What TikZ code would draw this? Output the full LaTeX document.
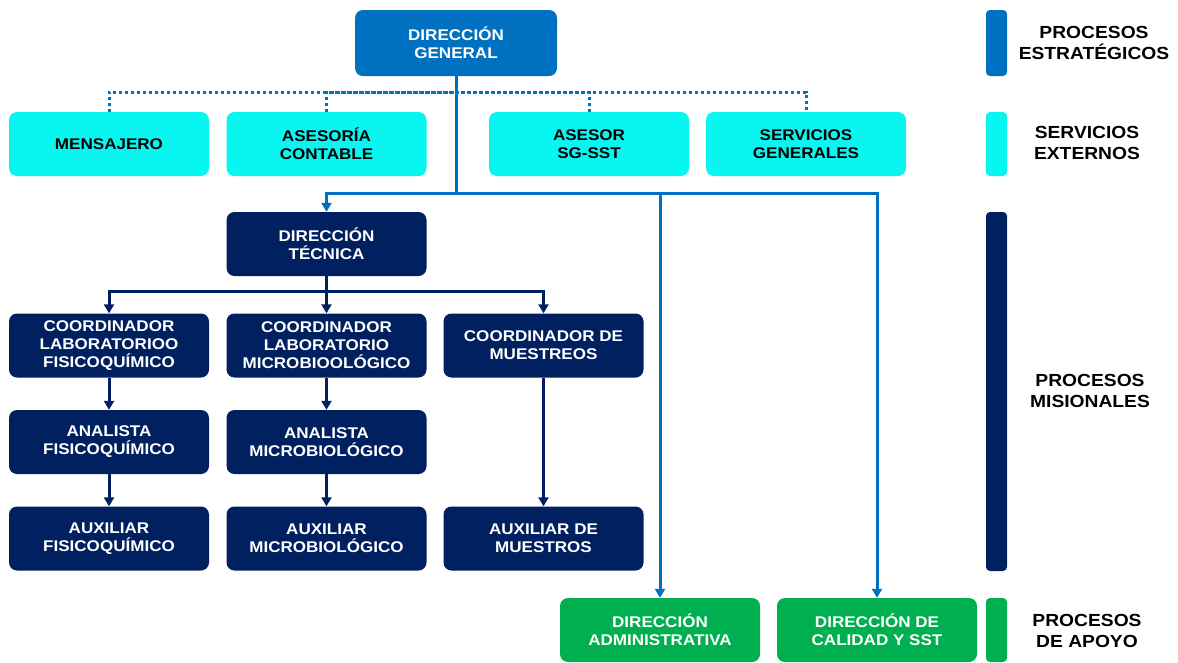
\documentclass[tikz,border=0pt]{standalone}
\usepackage{fontspec}
\setmainfont{Liberation Sans}[FakeStretch=1.1]
\usetikzlibrary{arrows.meta}
\definecolor{dgblue}{HTML}{0070C0}
\definecolor{cyanbox}{RGB}{8,246,240}
\definecolor{navybox}{HTML}{002060}
\definecolor{greenbox}{HTML}{00B050}
\begin{document}
\begin{tikzpicture}[x=1pt,y=-1pt,
  box/.style={rounded corners=8pt, minimum width=200pt, minimum height=64pt, inner sep=0pt, align=center,
    font=\fontsize{15.5}{18}\selectfont\bfseries},
  stratbox/.style={box, fill=dgblue, text=white, minimum width=202pt, minimum height=66pt},
  extbox/.style={box, fill=cyanbox, text=black},
  misbox/.style={box, fill=navybox, text=white},
  apobox/.style={box, fill=greenbox, text=white},
  legtext/.style={align=center, inner sep=0pt, font=\fontsize{17.5}{21}\selectfont\bfseries},
  bluearrow/.style={draw=dgblue, line width=3pt, -{Triangle[width=10pt,length=9pt]}},
  blueline/.style={draw=dgblue, line width=3pt},
  navyarrow/.style={draw=navybox, line width=3pt, -{Triangle[width=10pt,length=9pt]}},
  dotline/.style={draw=dgblue, line width=3pt, dash pattern=on 3pt off 3pt}
]
\useasboundingbox (0,0) rectangle (1178,662);

% nodes
\node[stratbox] (DG) at (456,43) {DIRECCIÓN\\GENERAL};

\node[extbox] (MEN) at (109,144) {MENSAJERO};
\node[extbox] (ASC) at (326.5,144) {ASESORÍA\\CONTABLE};
\node[extbox] (SGS) at (589,144) {ASESOR\\SG-SST};
\node[extbox] (SRV) at (806,144) {SERVICIOS\\GENERALES};

\node[misbox] (DT) at (326.5,244) {DIRECCIÓN\\TÉCNICA};
\node[misbox] (CLF) at (109,345.5) {COORDINADOR\\LABORATORIOO\\FISICOQUÍMICO};
\node[misbox] (CLM) at (326.5,345.5) {COORDINADOR\\LABORATORIO\\MICROBIOOLÓGICO};
\node[misbox] (CMU) at (543.5,345.5) {COORDINADOR DE\\MUESTREOS};
\node[misbox] (AF) at (109,442) {ANALISTA\\FISICOQUÍMICO};
\node[misbox] (AM) at (326.5,442) {ANALISTA\\MICROBIOLÓGICO};
\node[misbox] (XF) at (109,538.5) {AUXILIAR\\FISICOQUÍMICO};
\node[misbox] (XM) at (326.5,538.5) {AUXILIAR\\MICROBIOLÓGICO};
\node[misbox] (XMU) at (543.5,538.5) {AUXILIAR DE\\MUESTROS};

\node[apobox] (DA) at (660,630) {DIRECCIÓN\\ADMINISTRATIVA};
\node[apobox] (DC) at (877,630) {DIRECCIÓN DE\\CALIDAD Y SST};

% legend
\node[draw=none, fill=dgblue, rounded corners=4pt, minimum width=21pt, minimum height=66pt, inner sep=0pt] (LB1) at (996.5,43) {};
\node[draw=none, fill=cyanbox, rounded corners=4pt, minimum width=21pt, minimum height=64pt, inner sep=0pt] (LB2) at (996.5,144) {};
\node[draw=none, fill=navybox, rounded corners=4pt, minimum width=21pt, minimum height=359pt, inner sep=0pt] (LB3) at (996.5,391.5) {};
\node[draw=none, fill=greenbox, rounded corners=4pt, minimum width=21pt, minimum height=64pt, inner sep=0pt] (LB4) at (996.5,630) {};
\node[legtext] (LT1) at (1094,43) {PROCESOS\\ESTRATÉGICOS};
\node[legtext] (LT2) at (1087,143) {SERVICIOS\\EXTERNOS};
\node[legtext] (LT3) at (1090,391) {PROCESOS\\MISIONALES};
\node[legtext] (LT4) at (1087,631) {PROCESOS\\DE APOYO};

% dotted connectors to external services
\coordinate (DOT) at (456,92);
\draw[dotline] (MEN.north) |- (DOT) -| (SRV.north);
\draw[dotline] (ASC.north) |- (DOT);
\draw[dotline] (SGS.north) |- (DOT);

% solid blue connectors
\coordinate (J1) at (456,193);
\draw[blueline] (DG.south) -- (J1);
\draw[bluearrow] (J1) -| (DT.north);
\draw[bluearrow] (J1) -| (DA.north);
\draw[bluearrow] (J1) -| (DC.north);

% navy connectors
\coordinate (J2) at (326.5,291);
\draw[navyarrow] (DT.south) -- (CLM.north);
\draw[navyarrow] (J2) -| (CLF.north);
\draw[navyarrow] (J2) -| (CMU.north);
\draw[navyarrow] (CLF.south) -- (AF.north);
\draw[navyarrow] (AF.south) -- (XF.north);
\draw[navyarrow] (CLM.south) -- (AM.north);
\draw[navyarrow] (AM.south) -- (XM.north);
\draw[navyarrow] (CMU.south) -- (XMU.north);
\end{tikzpicture}
\end{document}
